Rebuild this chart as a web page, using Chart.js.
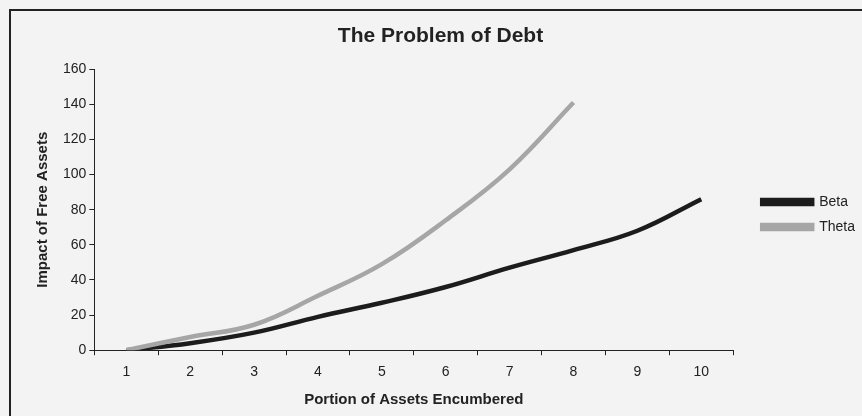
<!DOCTYPE html>
<html>
<head>
<meta charset="utf-8">
<script src="https://cdn.jsdelivr.net/npm/chart.js@4.4.0/dist/chart.umd.min.js"></script>
<style>
  html, body { margin: 0; padding: 0; background: #f3f3f3; }
  #wrap { position: relative; width: 862px; height: 416px; }
  #frame { position: absolute; left: 9px; top: 9px; width: 900px; height: 450px; border-left: 2px solid #222; border-top: 2px solid #222; box-sizing: border-box; pointer-events: none; }
  canvas { position: absolute; left: 0; top: 0; }
</style>
</head>
<body>
<div id="wrap">
  <canvas id="c" width="862" height="416"></canvas>
  <div id="frame"></div>
</div>
<script>
const categories = ['1', '2', '3', '4', '5', '6', '7', '8', '9', '10'];
const betaValues = [0, 4, 10, 19, 27, 36, 47, 57, 68, 86];
const thetaValues = [0, 7.5, 14.5, 31, 49, 74, 103, 141, null, null];
const yTicks = [0, 20, 40, 60, 80, 100, 120, 140, 160];

const FONT = "'Liberation Sans', Arial, sans-serif";

const shiftLegend = {
  id: 'shiftLegend',
  afterLayout(chart) {
    const lg = chart.legend;
    if (lg) { lg.left += 18; lg.right += 18; lg.top -= 2; lg.bottom -= 2; }
  }
};

new Chart(document.getElementById('c'), {
  type: 'line',
  data: {
    labels: categories,
    datasets: [
      {
        label: 'Beta',
        data: betaValues,
        borderColor: '#1c1c1c',
        backgroundColor: '#1c1c1c',
        borderWidth: 4.5,
        pointRadius: 0,
        tension: 0.4,
        fill: false,
        order: 1
      },
      {
        label: 'Theta',
        data: thetaValues,
        borderColor: '#a6a6a6',
        backgroundColor: '#a6a6a6',
        borderWidth: 4.5,
        pointRadius: 0,
        tension: 0.4,
        fill: false,
        order: 0
      }
    ]
  },
  options: {
    responsive: false,
    animation: false,
    layout: { padding: { left: 34, right: 15, top: 24, bottom: 7 } },
    plugins: {
      title: {
        display: true,
        text: 'The Problem of Debt',
        color: '#222',
        font: { family: FONT, size: 21, weight: 'bold' },
        padding: { top: 0, bottom: 20 }
      },
      legend: {
        position: 'right',
        align: 'center',
        labels: {
          color: '#222',
          font: { family: FONT, size: 14 },
          boxWidth: 50,
          boxHeight: 4,
          padding: 11,
          sort: (a, b) => a.datasetIndex - b.datasetIndex
        }
      },
      tooltip: { enabled: false }
    },
    scales: {
      x: {
        type: 'category',
        offset: true,
        grid: { display: true, drawOnChartArea: false, drawTicks: true, tickLength: 5, color: '#222', offset: true },
        border: { display: true, color: '#222', width: 1 },
        ticks: { color: '#222', font: { family: FONT, size: 14 }, padding: 9, maxRotation: 0 },
        title: { display: true, text: 'Portion of Assets Encumbered', color: '#222', font: { family: FONT, size: 15, weight: 'bold' }, padding: { top: 1, bottom: 0 } }
      },
      y: {
        min: 0,
        max: 160,
        afterBuildTicks: (axis) => { axis.ticks = yTicks.map(v => ({ value: v })); },
        grid: { display: true, drawOnChartArea: false, drawTicks: true, tickLength: 5, color: '#222' },
        border: { display: true, color: '#222', width: 1 },
        ticks: { color: '#222', font: { family: FONT, size: 14 }, padding: 3 },
        title: { display: true, text: 'Impact of Free Assets', color: '#222', font: { family: FONT, size: 15, weight: 'bold' }, padding: { top: 0, bottom: 8 } }
      }
    }
  },
  plugins: [shiftLegend]
});
</script>
</body>
</html>
